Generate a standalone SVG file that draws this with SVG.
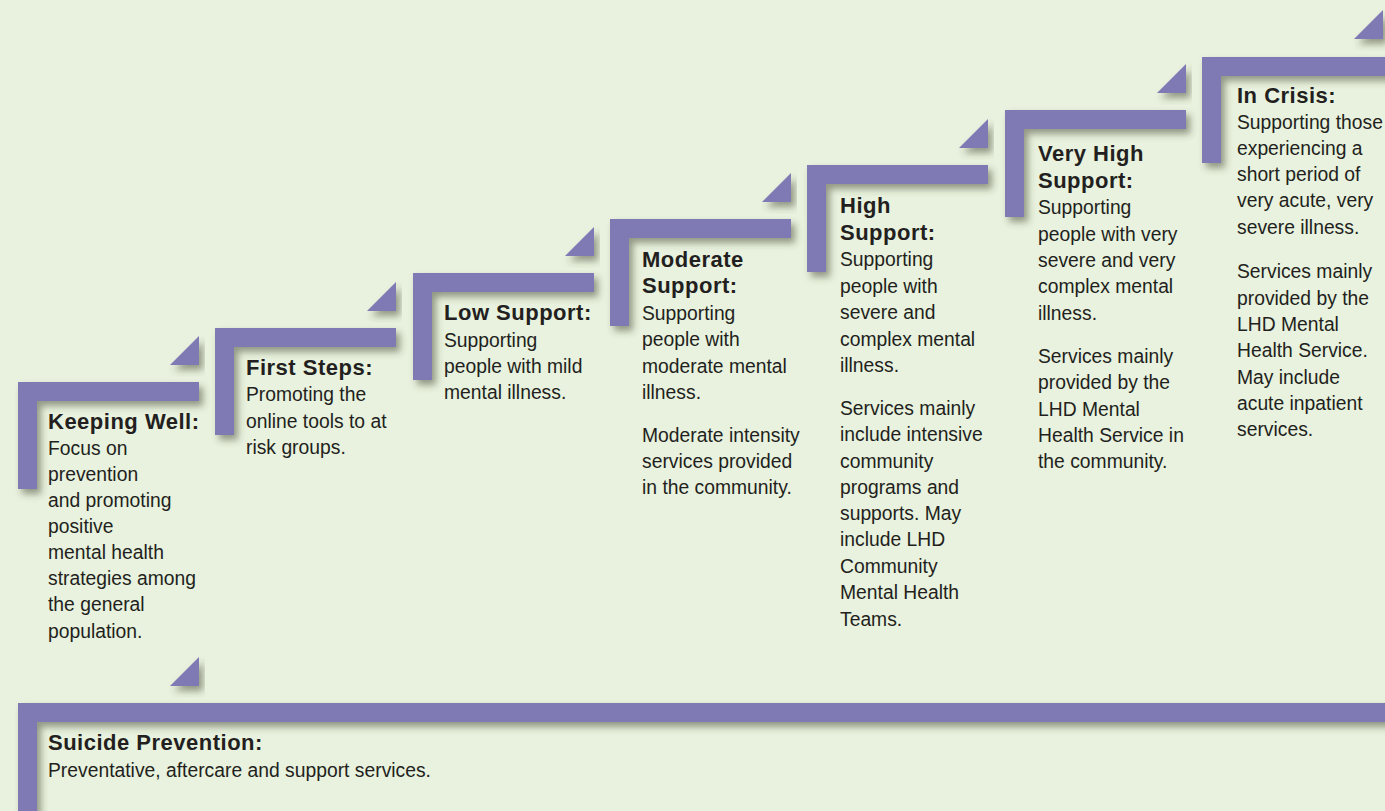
<svg xmlns="http://www.w3.org/2000/svg" width="1385" height="811" viewBox="0 0 1385 811">
<style>
.bar{fill:#7f7ab4;filter:url(#sh)}
.h{font-family:"Liberation Sans",Arial,sans-serif;font-weight:bold;font-size:22px;letter-spacing:0.5px;fill:#231f20}
.b{font-family:"Liberation Sans",Arial,sans-serif;font-size:21px;fill:#231f20}
</style>
<defs>
<filter id="sh" x="-20%" y="-30%" width="140%" height="170%">
<feDropShadow dx="4" dy="5" stdDeviation="3.5" flood-color="#3a3a2a" flood-opacity="0.5"/>
</filter>
</defs>
<rect width="1385" height="811" fill="#e8f2de"/>
<g id="steps">
<g id="keeping-well">
<path class="bar" d="M18,382h181v19h-162v88h-19z"/>
<path class="bar" d="M199,336v29h-29z"/>
<text class="h" x="48" y="429">Keeping Well:</text>
<g transform="translate(48 0) scale(0.92 1)"><text class="b"><tspan x="0" y="455">Focus on</tspan><tspan x="0" y="481">prevention</tspan><tspan x="0" y="507">and promoting</tspan><tspan x="0" y="533">positive</tspan><tspan x="0" y="559">mental health</tspan><tspan x="0" y="585">strategies among</tspan><tspan x="0" y="611">the general</tspan><tspan x="0" y="638">population.</tspan></text></g>
</g>
<g id="first-steps">
<path class="bar" d="M215,328h181v19h-162v88h-19z"/>
<path class="bar" d="M396,282v29h-29z"/>
<text class="h" x="246" y="375">First Steps:</text>
<g transform="translate(246 0) scale(0.92 1)"><text class="b"><tspan x="0" y="401">Promoting the</tspan><tspan x="0" y="428">online tools to at</tspan><tspan x="0" y="454">risk groups.</tspan></text></g>
</g>
<g id="low-support">
<path class="bar" d="M413,273h181v19h-162v88h-19z"/>
<path class="bar" d="M594,227v29h-29z"/>
<text class="h" x="444" y="320">Low Support:</text>
<g transform="translate(444 0) scale(0.92 1)"><text class="b"><tspan x="0" y="347">Supporting</tspan><tspan x="0" y="373">people with mild</tspan><tspan x="0" y="399">mental illness.</tspan></text></g>
</g>
<g id="moderate-support">
<path class="bar" d="M610,219h181v19h-162v88h-19z"/>
<path class="bar" d="M791,173v29h-29z"/>
<text class="h"><tspan x="642" y="267">Moderate</tspan><tspan x="642" y="293">Support:</tspan></text>
<g transform="translate(642 0) scale(0.92 1)"><text class="b"><tspan x="0" y="320">Supporting</tspan><tspan x="0" y="346">people with</tspan><tspan x="0" y="373">moderate mental</tspan><tspan x="0" y="399">illness.</tspan><tspan x="0" y="442">Moderate intensity</tspan><tspan x="0" y="468">services provided</tspan><tspan x="0" y="494">in the community.</tspan></text></g>
</g>
<g id="high-support">
<path class="bar" d="M807,165h181v19h-162v88h-19z"/>
<path class="bar" d="M988,119v29h-29z"/>
<text class="h"><tspan x="840" y="213">High</tspan><tspan x="840" y="240">Support:</tspan></text>
<g transform="translate(840 0) scale(0.92 1)"><text class="b"><tspan x="0" y="266">Supporting</tspan><tspan x="0" y="293">people with</tspan><tspan x="0" y="319">severe and</tspan><tspan x="0" y="346">complex mental</tspan><tspan x="0" y="372">illness.</tspan><tspan x="0" y="415">Services mainly</tspan><tspan x="0" y="441">include intensive</tspan><tspan x="0" y="468">community</tspan><tspan x="0" y="494">programs and</tspan><tspan x="0" y="520">supports. May</tspan><tspan x="0" y="546">include LHD</tspan><tspan x="0" y="573">Community</tspan><tspan x="0" y="599">Mental Health</tspan><tspan x="0" y="626">Teams.</tspan></text></g>
</g>
<g id="very-high-support">
<path class="bar" d="M1005,110h181v19h-162v88h-19z"/>
<path class="bar" d="M1186,64v29h-29z"/>
<text class="h"><tspan x="1038" y="161">Very High</tspan><tspan x="1038" y="188">Support:</tspan></text>
<g transform="translate(1038 0) scale(0.92 1)"><text class="b"><tspan x="0" y="214">Supporting</tspan><tspan x="0" y="241">people with very</tspan><tspan x="0" y="267">severe and very</tspan><tspan x="0" y="293">complex mental</tspan><tspan x="0" y="320">illness.</tspan><tspan x="0" y="363">Services mainly</tspan><tspan x="0" y="389">provided by the</tspan><tspan x="0" y="416">LHD Mental</tspan><tspan x="0" y="442">Health Service in</tspan><tspan x="0" y="468">the community.</tspan></text></g>
</g>
<g id="in-crisis">
<path class="bar" d="M1202,57h193v19h-174v87h-19z"/>
<path class="bar" d="M1383,10v29h-29z"/>
<text class="h" x="1237" y="103">In Crisis:</text>
<g transform="translate(1237 0) scale(0.92 1)"><text class="b"><tspan x="0" y="129">Supporting those</tspan><tspan x="0" y="155">experiencing a</tspan><tspan x="0" y="181">short period of</tspan><tspan x="0" y="207">very acute, very</tspan><tspan x="0" y="234">severe illness.</tspan><tspan x="0" y="278">Services mainly</tspan><tspan x="0" y="305">provided by the</tspan><tspan x="0" y="331">LHD Mental</tspan><tspan x="0" y="357">Health Service.</tspan><tspan x="0" y="384">May include</tspan><tspan x="0" y="410">acute inpatient</tspan><tspan x="0" y="436">services.</tspan></text></g>
</g>
<g id="suicide-prevention">
<path class="bar" d="M18,703h1377v19h-1358v99h-19z"/>
<path class="bar" d="M199,657v29h-29z"/>
<text class="h" x="48" y="750">Suicide Prevention:</text>
<g transform="translate(48 0) scale(0.92 1)"><text class="b" x="0" y="777">Preventative, aftercare and support services.</text></g>
</g>
</g>
<g id="connectors"></g>
</svg>
